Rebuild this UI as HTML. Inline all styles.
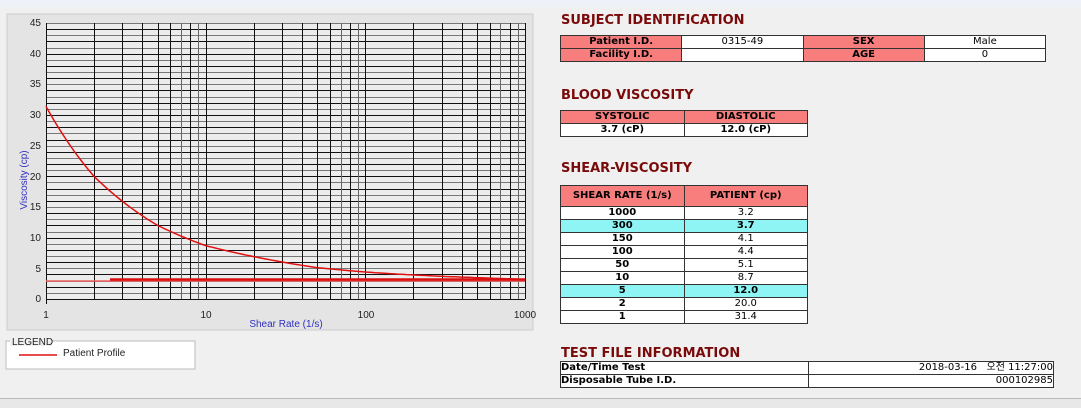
<!DOCTYPE html>
<html><head><meta charset="utf-8"><style>
body{margin:0;width:1081px;height:407px;background:#f0f0f0;position:relative;overflow:hidden;font-family:Verdana,"DejaVu Sans","Noto Sans CJK KR",sans-serif}
.top{position:absolute;left:0;top:0;width:1081px;height:7px;background:#eef1f8}
h3{position:absolute;margin:0;font-size:13px;color:#7a0a0a;font-weight:bold;left:561px}
table{position:absolute;border-collapse:collapse;font-size:10px;table-layout:fixed}
td{border:1px solid #333;padding:0;text-align:center;line-height:12px;height:12px;overflow:hidden;white-space:nowrap;background:#fff}
td.h{background:#f87e7e;font-weight:bold}
tr.c td{background:#8ff4f4;font-weight:bold}
td.b{font-weight:bold}
</style></head><body>
<div class="top"></div>
<svg style="position:absolute;left:0;top:0" width="545" height="407">
<rect x="7" y="14" width="526" height="316" fill="#e4e4e4" stroke="#ccc"/>
<rect x="46" y="23" width="479" height="276" fill="#ececec"/>
<g id="g"></g>
<g font-family="Liberation Sans,sans-serif" font-size="10" fill="#222" text-anchor="end">
<text x="41" y="26">45</text><text x="41" y="57">40</text><text x="41" y="87">35</text><text x="41" y="118">30</text><text x="41" y="149">25</text><text x="41" y="180">20</text><text x="41" y="210">15</text><text x="41" y="241">10</text><text x="41" y="272">5</text><text x="41" y="302">0</text>
</g>
<g font-family="Liberation Sans,sans-serif" font-size="10" fill="#222" text-anchor="middle">
<text x="46" y="318">1</text><text x="206" y="318">10</text><text x="366" y="318">100</text><text x="525" y="318">1000</text>
<text x="286" y="327" fill="#3030c0">Shear Rate (1/s)</text>
<text transform="translate(27,180) rotate(-90)" fill="#3030c0">Viscosity (cp)</text>
</g>
<polyline id="cv" fill="none" stroke="#e01010" stroke-width="1.5"/>
<line x1="46" y1="281" x2="525" y2="281" stroke="#f06060" stroke-width="1.5"/>
<line x1="110" y1="279.5" x2="525" y2="279.5" stroke="#d81010" stroke-width="2.5"/>
<rect x="6" y="341" width="189" height="28" fill="#fff" stroke="#bbb"/>
<rect x="10" y="334" width="42" height="12" fill="#f0f0f0"/>
<text x="12" y="345" font-family="Liberation Sans,sans-serif" font-size="10" fill="#222">LEGEND</text>
<line x1="19" y1="355" x2="57" y2="355" stroke="#e01010" stroke-width="1.5"/>
<text x="63" y="356" font-family="Liberation Sans,sans-serif" font-size="10" fill="#222">Patient Profile</text>
</svg>
<script>
var g=document.getElementById('g'),s='';
function X(v){return 46+Math.log10(v)*159.7}
function Y(v){return 299-v*6.133}
function R(v){return Math.round(v)+0.5}
for(var i=0;i<=45;i++){var y=R(Y(i));s+='<line x1="46" x2="525" y1="'+y+'" y2="'+y+'" stroke="'+(i%2?'#777':'#111')+'" stroke-width="1"/>';}
for(var d=1;d<=100;d*=10)for(var k=1;k<=10;k++){var x=R(X(d*k));s+='<line y1="23" y2="299" x1="'+x+'" x2="'+x+'" stroke="'+(k==7||k==9?'#666':'#111')+'"/>';}
s+='<line x1="46.5" y1="299" x2="46.5" y2="304" stroke="#111"/>';
g.innerHTML=s;
var pts=[[1,31.4],[2,20],[5,12],[10,8.7],[50,5.1],[100,4.4],[150,4.1],[300,3.7],[1000,3.2]],p=[];
for(var t=0;t<=3;t+=0.02){var v=Math.pow(10,t),j=0;while(j<pts.length-2&&pts[j+1][0]<v)j++;var a=pts[j],b=pts[j+1];var f=(Math.log(v)-Math.log(a[0]))/(Math.log(b[0])-Math.log(a[0]));var val=a[1]*Math.pow(b[1]/a[1],f);p.push(X(v).toFixed(1)+','+Y(val).toFixed(1));}
document.getElementById('cv').setAttribute('points',p.join(' '));
</script>
<h3 style="top:13px">SUBJECT IDENTIFICATION</h3>
<table style="left:560px;top:35px;width:486px"><tr><td class="h">Patient I.D.</td><td>0315-49</td><td class="h">SEX</td><td>Male</td></tr><tr><td class="h">Facility I.D.</td><td></td><td class="h">AGE</td><td>0</td></tr></table>
<h3 style="top:88px">BLOOD VISCOSITY</h3>
<table style="left:560px;top:110px;width:248px"><tr><td class="h">SYSTOLIC</td><td class="h">DIASTOLIC</td></tr><tr><td class="b">3.7 (cP)</td><td class="b">12.0 (cP)</td></tr></table>
<h3 style="top:161px">SHEAR-VISCOSITY</h3>
<table style="left:560px;top:185px;width:248px"><tr><td class="h" style="height:20px">SHEAR RATE (1/s)</td><td class="h">PATIENT (cp)</td></tr>
<tr><td class="b">1000</td><td>3.2</td></tr><tr class="c"><td>300</td><td>3.7</td></tr><tr><td class="b">150</td><td>4.1</td></tr><tr><td class="b">100</td><td>4.4</td></tr><tr><td class="b">50</td><td>5.1</td></tr><tr><td class="b">10</td><td>8.7</td></tr><tr class="c"><td>5</td><td>12.0</td></tr><tr><td class="b">2</td><td>20.0</td></tr><tr><td class="b">1</td><td>31.4</td></tr></table>
<h3 style="top:346px">TEST FILE INFORMATION</h3>
<table style="left:560px;top:361px;width:494px"><tr><td class="b" style="text-align:left;width:247px">Date/Time Test</td><td style="text-align:right">2018-03-16&nbsp;&nbsp; 오전 11:27:00</td></tr><tr><td class="b" style="text-align:left">Disposable Tube I.D.</td><td style="text-align:right">000102985</td></tr></table>
<div style="position:absolute;left:0;top:398px;width:1081px;height:9px;background:#e8e8e8;border-top:1px solid #bbb"></div>
</body></html>
